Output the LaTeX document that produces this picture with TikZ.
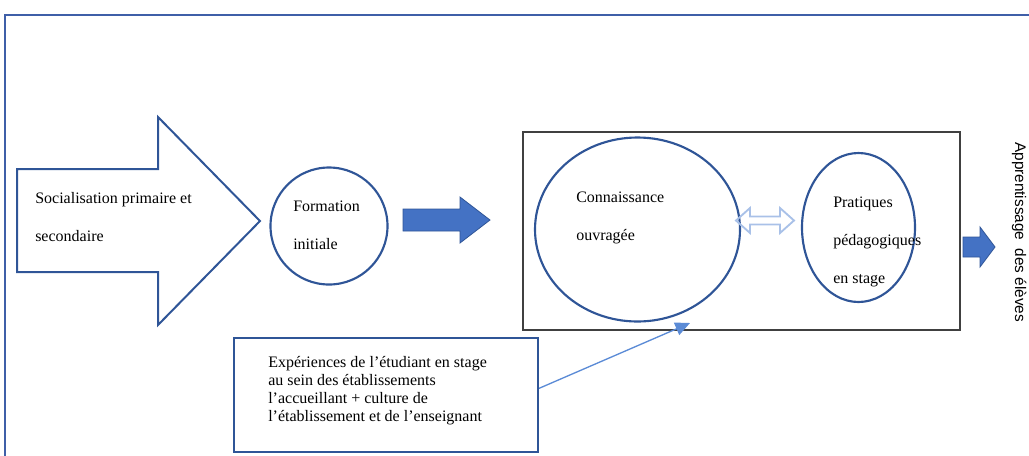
\documentclass[tikz,border=0pt]{standalone}
\usepackage{fontspec}
\setmainfont{Liberation Serif}
\newfontfamily\rotfont{Liberation Sans}
\usepackage{xcolor}
\usetikzlibrary{shapes.geometric,arrows.meta}

\definecolor{cadre}{HTML}{3F5FA8}
\definecolor{trait}{HTML}{2F5597}
\definecolor{plein}{HTML}{4472C4}
\definecolor{clair}{HTML}{A9C1E8}
\definecolor{lien}{HTML}{5B8BD6}

\begin{document}
\begin{tikzpicture}[x=0.75pt,y=-0.75pt,%
% common options for the texts:
txt/.style = {align=left, anchor=north west, inner sep=0,
            font=\fontsize{12}{28.5}\selectfont},
% common options for the circles:
rond/.style = {ellipse, draw=trait, line width=1.6pt, inner sep=0},
% block arrows:
fleche/.style = {fill=plein, draw=trait, line width=0.6pt, line join=miter}]
\useasboundingbox (0,0) rectangle (1029,455);
% outer frame
\draw[cadre, line width=1.8pt] (5,470) -- (5,15) -- (1040,15);
% big hollow arrow
\draw[trait, line width=1.5pt, line join=miter] (17,169) -- (158,169) -- (158,117) -- (260,221)
  -- (158,325) -- (158,272) -- (17,272) -- cycle;
\node[txt] (soc) at (35,192) {Socialisation primaire et\\secondaire};
% first circle
\node[rond, minimum width=117*0.75pt, minimum height=117*0.75pt] (form) at (329,226) {};
\node[txt] (formt) at (293,201) {Formation\\initiale};
\draw[fleche] (403,209) -- (460,209) -- (460,197) -- (490,220) -- (460,243)
  -- (460,231) -- (403,231) -- cycle;
% box with the two circles
\node[draw=black!75, line width=0.8pt, minimum width=437*0.75pt, minimum height=198*0.75pt,
  inner sep=0] (boite) at (741.5,231) {};
\node[rond, minimum width=205*0.75pt, minimum height=184*0.75pt] (conn) at (637.5,229.5) {};
\node[txt] (connt) at (576,192) {Connaissance\\ouvragée};
\node[rond, minimum width=113*0.75pt, minimum height=149*0.75pt] (prat) at (858.5,227.5) {};
\node[txt] (pratt) at (833,197) {Pratiques\\pédagogiques\\en stage};
\draw[clair, line width=1.4pt, line join=miter] (736,220.5) -- (750,208) -- (750,216.5)
  -- (780,216.5) -- (780,208) -- (794,220.5) -- (780,233) -- (780,224.5) -- (750,224.5)
  -- (750,233) -- cycle;
\draw[fleche] (963,237) -- (980,237) -- (980,227) -- (995,247) -- (980,267)
  -- (980,257) -- (963,257) -- cycle;
\node[rotate=-90, anchor=base west, inner sep=0, font=\rotfont\fontsize{11.5}{14}\selectfont]
  (appr) at (1015,142) {Apprentissage\ \ des élèves};
% experiences box
\node[draw=trait, line width=1.6pt, minimum width=304*0.75pt, minimum height=114*0.75pt,
  inner sep=0] (exp) at (386,395) {};
\node[txt, font=\fontsize{12}{13.6}\selectfont] (expt) at (268,356)
  {Expériences de l’étudiant en stage\\au sein des établissements\\l’accueillant + culture de\\l’établissement et de l’enseignant};
\coordinate (cible) at (690,323);
\draw[lien, line width=1pt, -{Triangle[length=11pt,width=10pt]}] ([yshift=5pt]exp.east) -- (cible);
\end{tikzpicture}
\end{document}
